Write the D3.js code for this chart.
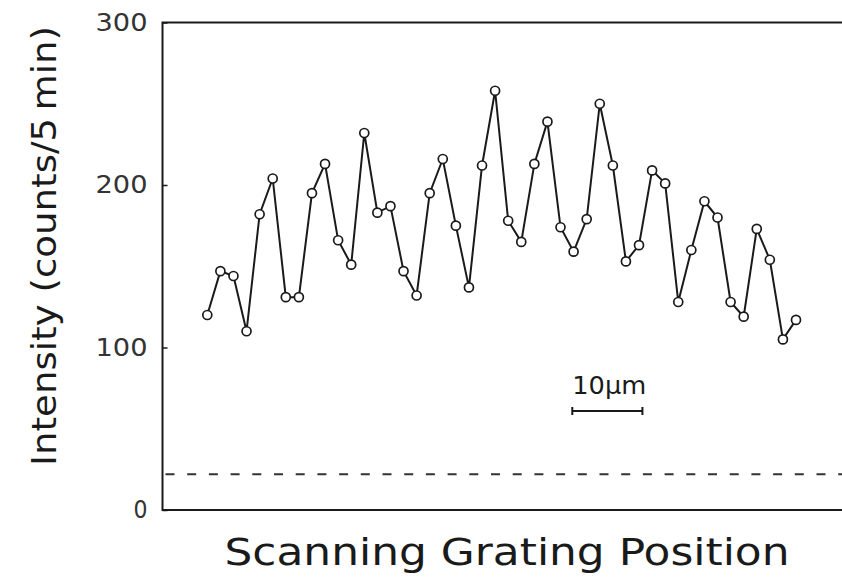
<!DOCTYPE html>
<html>
<head>
<meta charset="utf-8">
<script src="https://cdn.jsdelivr.net/npm/d3@7"></script>
<style>
  html, body { margin: 0; padding: 0; background: #fff; }
  #chart { width: 842px; height: 579px; }
</style>
</head>
<body>
<div id="chart"></div>
<script>
// Intensity (counts / 5 min) at each scanning grating step
const intensity = [
  120, 147, 144, 110, 182, 204, 131, 131, 195, 213,
  166, 151, 232, 183, 187, 147, 132, 195, 216, 175,
  137, 212, 258, 178, 165, 213, 239, 174, 159, 179,
  250, 212, 153, 163, 209, 201, 128, 160, 190, 180,
  128, 119, 173, 154, 105, 117
];
const yTicks = [0, 100, 200, 300];
const background = 22;
// scale bar endpoints, in grating steps
const scaleBar = [27.9, 33.26];
const scaleBarLabel = "10\u00b5m";
const xTitle = "Scanning Grating Position";
const yTitle = "Intensity (counts/5\u2009min)";

const W = 842, H = 579;
const frame = { left: 162.5, right: 842, top: 22.5, bottom: 510 };
const font = "'DejaVu Sans', sans-serif";
const ink = "#1a1a1a";

const svg = d3.select("#chart")
  .append("svg")
  .attr("width", W)
  .attr("height", H);

const x = d3.scaleLinear()
  .domain([0, intensity.length - 1])
  .range([207.3, 796]);

const y = d3.scaleLinear()
  .domain([0, 300])
  .range([frame.bottom, frame.top]);

// background level
svg.append("line")
  .attr("x1", frame.left + 3)
  .attr("x2", frame.right)
  .attr("y1", y(background))
  .attr("y2", y(background))
  .attr("stroke", "#333")
  .attr("stroke-width", 1.8)
  .attr("stroke-dasharray", "9,12.7");

// frame: left, top and bottom edges
svg.append("path")
  .attr("d", `M${frame.right},${frame.top}H${frame.left}V${frame.bottom}H${frame.right}`)
  .attr("fill", "none")
  .attr("stroke", ink)
  .attr("stroke-width", 2);

svg.append("g")
  .attr("transform", `translate(${frame.left},0)`)
  .call(d3.axisRight(y).tickValues(yTicks).tickSize(5).tickFormat(""))
  .call((g) => g.select(".domain").remove())
  .call((g) => g.selectAll("line").attr("stroke", ink).attr("stroke-width", 1.5));

svg.append("g")
  .attr("transform", `translate(${frame.left},0)`)
  .call(d3.axisLeft(y).tickValues(yTicks).tickSize(0).tickPadding(15))
  .call((g) => g.select(".domain").remove())
  .call((g) =>
    g.selectAll("text")
      .attr("fill", "#333")
      .attr("font-family", font)
      .attr("font-size", 24)
      .attr("textLength", (d) => (d === 0 ? 14 : 52))
      .attr("lengthAdjust", "spacingAndGlyphs"),
  );

// data
svg.append("path")
  .datum(intensity)
  .attr("d", d3.line().x((d, i) => x(i)).y((d) => y(d)))
  .attr("fill", "none")
  .attr("stroke", ink)
  .attr("stroke-width", 2);

svg.append("g")
  .selectAll("circle")
  .data(intensity)
  .join("circle")
  .attr("cx", (d, i) => x(i))
  .attr("cy", (d) => y(d))
  .attr("r", 4.5)
  .attr("fill", "#fff")
  .attr("stroke", ink)
  .attr("stroke-width", 1.7);

// scale bar
const barY = 411;
svg.append("path")
  .attr("d", `M${x(scaleBar[0])},${barY}H${x(scaleBar[1])}` +
    `M${x(scaleBar[0])},${barY - 4}v8M${x(scaleBar[1])},${barY - 4}v8`)
  .attr("stroke", ink)
  .attr("stroke-width", 2);

svg.append("text")
  .attr("x", x(scaleBar[0]))
  .attr("y", 394)
  .attr("font-family", font)
  .attr("font-size", 25)
  .attr("fill", ink)
  .attr("textLength", 74)
  .attr("lengthAdjust", "spacingAndGlyphs")
  .text(scaleBarLabel);

// axis titles
svg.append("text")
  .attr("x", 507)
  .attr("y", 565)
  .attr("text-anchor", "middle")
  .attr("font-family", font)
  .attr("font-size", 38)
  .attr("fill", ink)
  .attr("textLength", 565)
  .attr("lengthAdjust", "spacingAndGlyphs")
  .text(xTitle);

svg.append("text")
  .attr("transform", "translate(56,246) rotate(-90)")
  .attr("text-anchor", "middle")
  .attr("font-family", font)
  .attr("font-size", 34)
  .attr("fill", ink)
  .attr("textLength", 440)
  .attr("lengthAdjust", "spacingAndGlyphs")
  .text(yTitle);
</script>
</body>
</html>
